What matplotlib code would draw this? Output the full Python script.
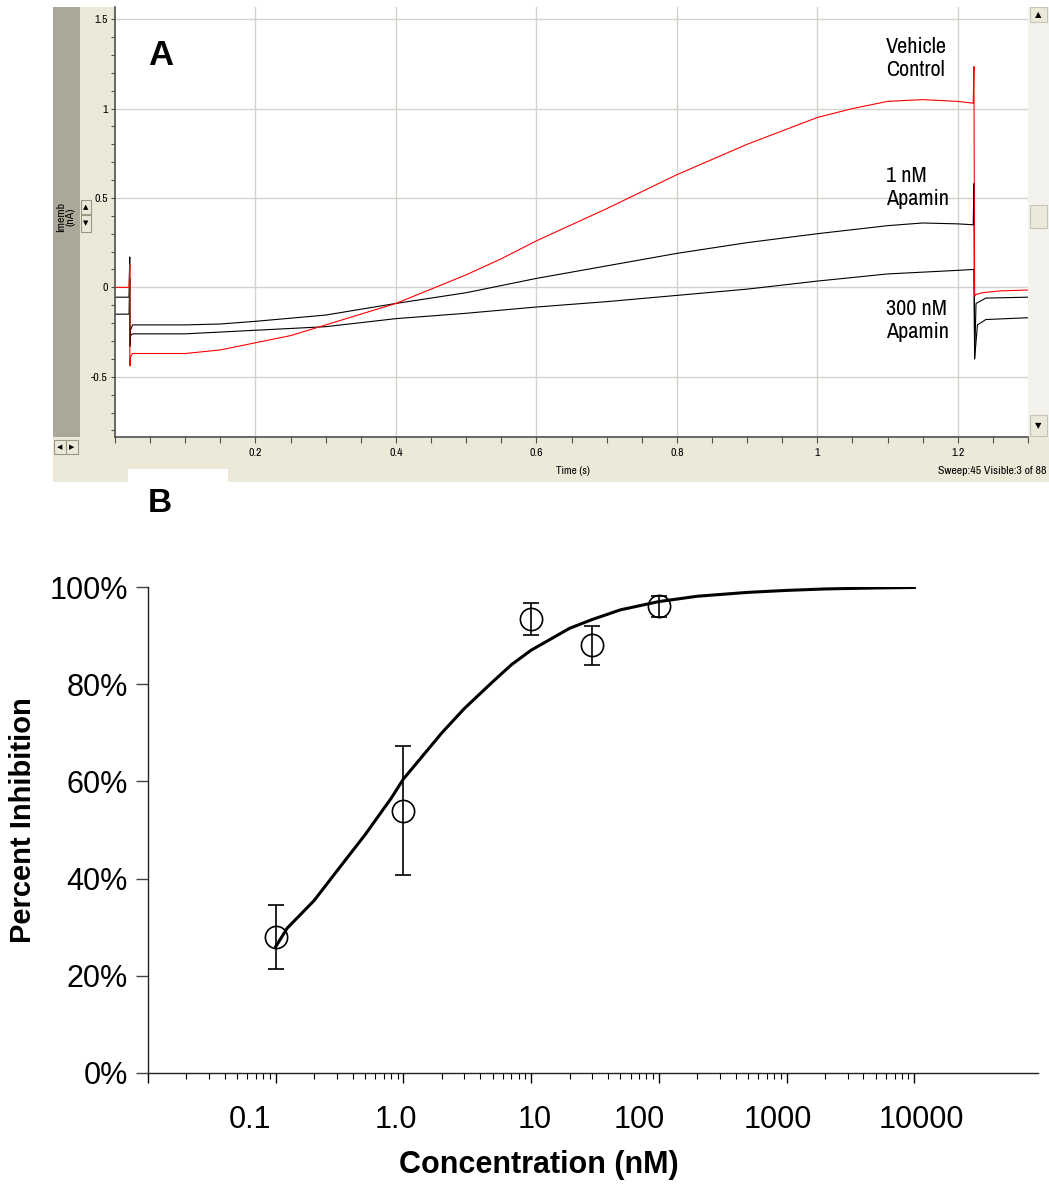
import matplotlib
matplotlib.use('Agg')
import matplotlib.pyplot as plt
from matplotlib import font_manager
from matplotlib.patches import Rectangle
from matplotlib.ticker import FixedLocator, FixedFormatter, MultipleLocator, NullFormatter
from matplotlib.transforms import ScaledTranslation

plt.rcParams['font.family'] = ['Liberation Sans', 'DejaVu Sans']
plt.rcParams['axes.unicode_minus'] = False

# ---- Panel A: membrane current traces (nA) vs time (s) ----
vehicle_t = [0.000, 0.020, 0.021, 0.0212, 0.022, 0.025, 0.05, 0.10, 0.15, 0.20, 0.25, 0.30, 0.35,
             0.40, 0.45, 0.50, 0.55, 0.60, 0.70, 0.80, 0.90, 1.00, 1.05, 1.10, 1.15, 1.20, 1.222,
             1.223, 1.224, 1.226, 1.235, 1.26, 1.30]
vehicle_i = [0.00, 0.00, 0.13, -0.44, -0.39, -0.37, -0.37, -0.37, -0.35, -0.31, -0.27, -0.21, -0.15,
             -0.09, -0.01, 0.07, 0.16, 0.26, 0.44, 0.63, 0.80, 0.95, 1.00, 1.04, 1.05, 1.04, 1.03,
             1.235, -0.05, -0.04, -0.03, -0.02, -0.015]

apamin1_t = [0.000, 0.020, 0.021, 0.0212, 0.022, 0.025, 0.10, 0.15, 0.20, 0.30, 0.40, 0.50, 0.60,
             0.70, 0.80, 0.90, 1.00, 1.10, 1.15, 1.20, 1.222, 1.223, 1.224, 1.226, 1.24, 1.30]
apamin1_i = [-0.055, -0.055, 0.17, -0.33, -0.24, -0.21, -0.21, -0.205, -0.19, -0.155, -0.09, -0.03,
             0.05, 0.12, 0.19, 0.25, 0.30, 0.345, 0.36, 0.355, 0.35, 0.58, -0.40, -0.09, -0.06, -0.055]

apamin300_t = [0.000, 0.020, 0.021, 0.0212, 0.022, 0.025, 0.10, 0.20, 0.30, 0.40, 0.50, 0.60, 0.70,
               0.80, 0.90, 1.00, 1.10, 1.20, 1.222, 1.223, 1.224, 1.228, 1.24, 1.30]
apamin300_i = [-0.15, -0.15, 0.05, -0.30, -0.27, -0.26, -0.26, -0.24, -0.22, -0.175, -0.145, -0.11,
               -0.08, -0.045, -0.01, 0.035, 0.075, 0.095, 0.10, 0.10, -0.40, -0.21, -0.18, -0.17]

a_yticks = [-0.5, 0, 0.5, 1, 1.5]
a_yticklabels = ['-0.5', '0', '0.5', '1', '1.5']
a_xticks = [0.2, 0.4, 0.6, 0.8, 1.0, 1.2]
a_xticklabels = ['0.2', '0.4', '0.6', '0.8', '1', '1.2']

# ---- Panel B: concentration-response ----
conc_nM = [0.1, 1.0, 10, 30, 100]
inhibition = [28, 54, 93.5, 88, 96]
inhibition_sem = [6.5, 13.3, 3.3, 4.0, 2.2]

fit_conc = [0.1, 0.123, 0.2, 0.3, 0.5, 0.8, 1.0, 2.0, 3.0, 5, 7, 10, 20, 30, 50, 100, 200, 500,
            1000, 2000, 5000, 10000]
fit_inhibition = [26, 29.8, 35.5, 41.5, 49, 56.5, 60.5, 70, 75, 80.5, 84, 87, 91.5, 93.3, 95.3, 97,
                  98.1, 98.9, 99.3, 99.6, 99.8, 99.9]

b_xticks = [0.01, 0.1, 1, 10, 100, 1000, 10000]
b_xticklabels = ['', '0.1', '1.0', '10', '100', '1000', '10000']
b_label_shift = [0, -26, -8, 4, -20, -9, 7]   # px, labels sit a bit off their ticks
b_yticks = [0, 20, 40, 60, 80, 100]
b_yticklabels = ['0%', '20%', '40%', '60%', '80%', '100%']

W, H = 1049, 1186
fig = plt.figure(figsize=(W / 100, H / 100), dpi=100)

# look for a narrow sans face for the screenshot texts
narrow = {'family': 'Liberation Sans'}
condensed = False
for f in font_manager.fontManager.ttflist:
    if f.name == 'Liberation Sans Narrow':
        narrow = {'family': f.name}
        condensed = True
        break
else:
    for f in font_manager.fontManager.ttflist:
        if 'Condensed' in f.name or 'Narrow' in f.name:
            narrow = {'family': f.name}
            condensed = True
            break
        if f.name == 'DejaVu Sans' and str(f.stretch) in ('condensed', 'semi-condensed') \
                and f.weight in (400, 'normal') and f.style == 'normal':
            narrow = {'family': 'DejaVu Sans', 'stretch': f.stretch}
            condensed = True
label_size = 16 if condensed else 13.5
small_size = 8.5 if condensed else 7.5


def box(x0, y0, x1, y1):
    return [x0 / W, 1 - y1 / H, (x1 - x0) / W, (y1 - y0) / H]


def frect(x0, y0, x1, y1, z=-5, **kw):
    fig.patches.append(Rectangle((x0 / W, 1 - y1 / H), (x1 - x0) / W, (y1 - y0) / H,
                                 transform=fig.transFigure, zorder=z, **kw))


def ftext(x, y, s, **kw):
    fig.text(x / W, 1 - y / H, s, **kw)


# screenshot chrome
beige = '#ece9d8'
frect(53, 7, 1049, 482, facecolor=beige, edgecolor='none')
frect(53, 7, 80, 437, facecolor='#aca899', edgecolor='none')
frect(128, 469, 228, 482, facecolor='white', edgecolor='none')
frect(1028, 7, 1049, 437, facecolor='#f3f2ec', edgecolor='none')
for (y0, y1, s) in [(7, 22, '▲'), (415, 436, '▼')]:
    frect(1030, y0, 1047, y1, z=2, facecolor=beige, edgecolor='#c8c5b8', lw=0.8)
    ftext(1038.5, (y0 + y1) / 2, s, ha='center', va='center', fontsize=6,
          family='DejaVu Sans', zorder=3)
frect(1030, 205, 1047, 228, z=2, facecolor=beige, edgecolor='#c8c5b8', lw=0.8)
for (x0, x1, s) in [(54, 66, '◀'), (66, 78, '▶')]:
    frect(x0, 440, x1, 454, z=2, facecolor=beige, edgecolor='#9a9788', lw=0.8)
    ftext((x0 + x1) / 2, 447, s, ha='center', va='center', fontsize=5,
          family='DejaVu Sans', zorder=3)
for (y0, y1, s) in [(200, 214, '▲'), (215, 232, '▼')]:
    frect(81, y0, 91, y1, z=2, facecolor=beige, edgecolor='#9a9788', lw=0.8)
    ftext(86, (y0 + y1) / 2, s, ha='center', va='center', fontsize=5,
          family='DejaVu Sans', zorder=3)
ftext(66, 217, 'Imemb\n(nA)', rotation=90, ha='center', va='center', fontsize=8.5,
      linespacing=1.0, **narrow)

axA = fig.add_axes(box(115, 7, 1028, 437))
axA.plot(apamin300_t, apamin300_i, color='black', lw=0.8)
axA.plot(apamin1_t, apamin1_i, color='black', lw=0.8)
axA.plot(vehicle_t, vehicle_i, color='#ff0000', lw=0.8)
axA.set_xlim(0, 1.3)
axA.set_ylim(-0.837, 1.568)
axA.set_yticks(a_yticks)
axA.set_yticklabels(a_yticklabels)
axA.yaxis.set_minor_locator(MultipleLocator(0.1))
axA.set_xticks(a_xticks)
axA.set_xticklabels(a_xticklabels)
axA.xaxis.set_minor_locator(MultipleLocator(0.05))
axA.grid(True, which='major', color='#d4d2cc', lw=1.0)
axA.set_axisbelow(True)
for side in ['top', 'right']:
    axA.spines[side].set_visible(False)
for side in ['left', 'bottom']:
    axA.spines[side].set_color('#505050')
    axA.spines[side].set_linewidth(1.2)
axA.tick_params(which='both', direction='out', length=3, width=0.8, color='#505050',
                labelsize=small_size, pad=2)
axA.tick_params(axis='x', which='both', length=4, pad=4)
for lab in axA.get_xticklabels() + axA.get_yticklabels():
    lab.set_fontproperties(font_manager.FontProperties(size=small_size, **narrow))
axA.text(0.036, 0.888, 'A', transform=axA.transAxes, fontsize=25, fontweight='bold',
         family='Liberation Sans', ha='left', va='center')
ftext(573, 471, 'Time (s)', ha='center', va='center', fontsize=small_size - 0.5, **narrow)
ftext(1047, 471, 'Sweep:45 Visible:3 of 88', ha='right', va='center', fontsize=small_size, **narrow)
for y, s in [(37, 'Vehicle\nControl'), (166, '1 nM\nApamin'), (299, '300 nM\nApamin')]:
    ftext(886, y, s, ha='left', va='top', fontsize=label_size, linespacing=1.2, **narrow)

# ---- panel B ----
ftext(160, 503, 'B', ha='center', va='center', fontsize=24, fontweight='bold')
axB = fig.add_axes(box(148, 587, 1038, 1073))
axB.plot(fit_conc, fit_inhibition, color='black', lw=2.2, zorder=3)
axB.errorbar(conc_nM, inhibition, yerr=inhibition_sem, fmt='o', ms=16, mfc='none', mec='black',
             mew=1.2, ecolor='black', elinewidth=1.2, capsize=6, capthick=1.2, zorder=4)
axB.set_xscale('log')
axB.set_xlim(0.01, 9.3e4)
axB.set_ylim(0, 100)
axB.xaxis.set_major_locator(FixedLocator(b_xticks))
axB.xaxis.set_major_formatter(FixedFormatter(b_xticklabels))
axB.xaxis.set_minor_locator(FixedLocator([m * 10.0 ** e for e in range(-2, 4) for m in range(2, 10)]))
axB.xaxis.set_minor_formatter(NullFormatter())
axB.set_yticks(b_yticks)
axB.set_yticklabels(b_yticklabels)
for side in ['top', 'right']:
    axB.spines[side].set_visible(False)
for side in ['left', 'bottom']:
    axB.spines[side].set_linewidth(1.0)
    axB.spines[side].set_color('#222222')
axB.tick_params(axis='y', direction='out', length=9, width=1.0, color='#444444', labelsize=22, pad=5.5)
axB.tick_params(axis='x', which='major', direction='out', length=7, width=1.0, labelsize=22, pad=16)
axB.tick_params(axis='x', which='minor', direction='out', length=4, width=0.8)
for lab, dx in zip(axB.get_xticklabels(), b_label_shift):
    lab.set_transform(lab.get_transform() + ScaledTranslation(dx / 100, 0, fig.dpi_scale_trans))
ftext(539, 1165, 'Concentration (nM)', ha='center', va='center', fontsize=22, fontweight='bold')
ftext(23, 820, 'Percent Inhibition', ha='center', va='center', fontsize=21, fontweight='bold',
      rotation=90)

fig.savefig('out.png', dpi=100)
